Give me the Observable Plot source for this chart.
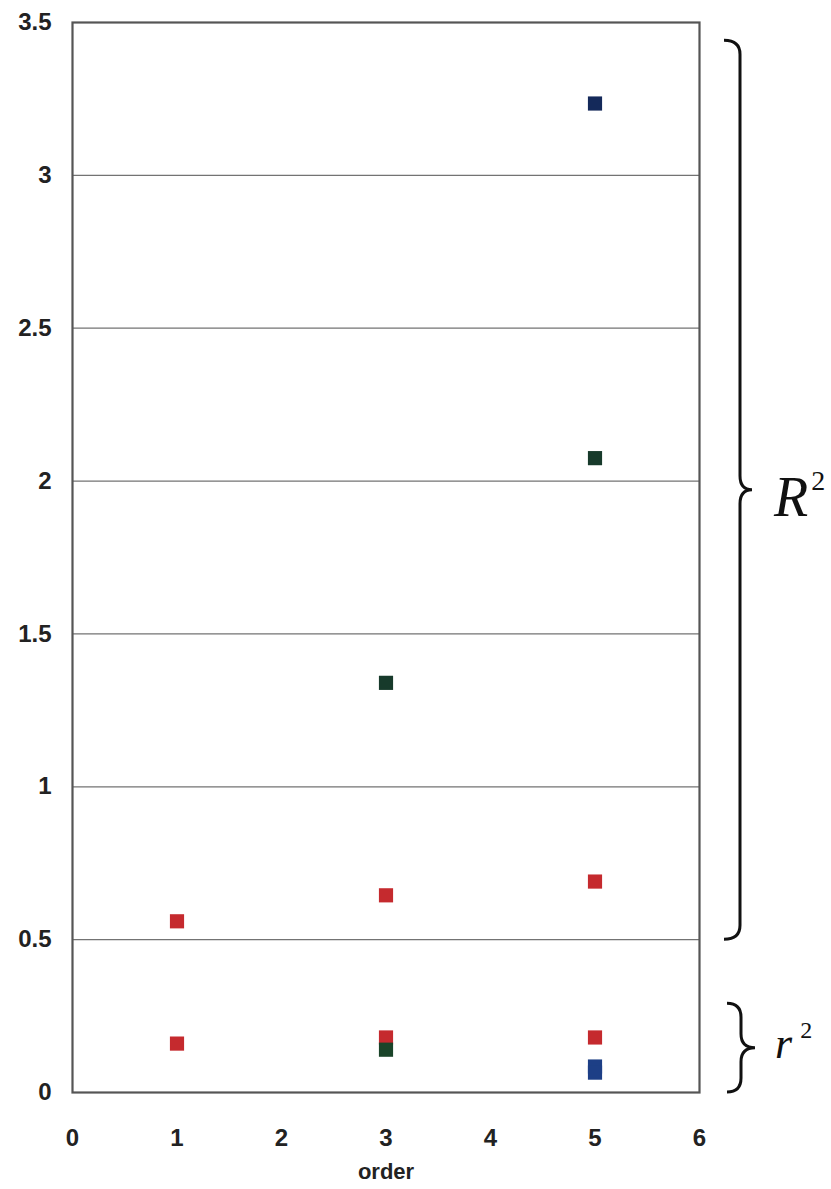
<!DOCTYPE html>
<html>
<head>
<meta charset="utf-8">
<script src="https://cdn.jsdelivr.net/npm/d3@7"></script>
<script src="https://cdn.jsdelivr.net/npm/@observablehq/plot@0.6"></script>
<style>
  html, body { margin: 0; padding: 0; background: #fff; }
</style>
</head>
<body>
<div id="chart"></div>
<script>
// ---- data ----
const xTicks = [0, 1, 2, 3, 4, 5, 6];
const yTicks = [0, 0.5, 1, 1.5, 2, 2.5, 3, 3.5];
const gridValues = [0.5, 1, 1.5, 2, 2.5, 3];

// R^2 (upper group)
const redRX = [1, 3, 5];
const redR = [0.56, 0.645, 0.69];
const greenRX = [3, 5];
const greenR = [1.34, 2.075];
const blueRX = [5];
const blueR = [3.235];

// r^2 (lower group)
const redrX = [1, 3, 5];
const redr = [0.16, 0.18, 0.18];
const greenrX = [3];
const greenr = [0.14];
const bluerX = [5, 5];
const bluer = [0.085, 0.065];

// brace extents (in y units)
const bigBrace = [3.44, 0.5];
const smallBrace = [0.29, 0.0];

const pts = (xs, ys, color) => xs.map((x, i) => ({x, y: ys[i], color}));
const points = [
  ...pts(redRX, redR, "#c52a2e"),
  ...pts(greenRX, greenR, "#173a2b"),
  ...pts(blueRX, blueR, "#14295a"),
  ...pts(redrX, redr, "#c52a2e"),
  ...pts(greenrX, greenr, "#1a4429"),
  ...pts(bluerX, bluer, "#1d3f86")
];

const plot = Plot.plot({
  width: 831,
  height: 1189,
  marginTop: 22,
  marginRight: 132,
  marginBottom: 97,
  marginLeft: 72,
  style: {fontFamily: "Liberation Sans, Arial, sans-serif", background: "white", color: "#222"},
  x: {domain: [0, 6]},
  y: {domain: [0, 3.5]},
  marks: [
    Plot.ruleY(gridValues, {stroke: "#444", strokeWidth: 1.3, strokeOpacity: 0.75}),
    Plot.frame({stroke: "#555", strokeWidth: 2.2}),
    Plot.axisY({ticks: yTicks, tickSize: 0, tickPadding: 21, tickFormat: d => String(d),
      fontSize: 24, fontWeight: "bold", label: null}),
    Plot.axisX({ticks: xTicks, tickSize: 0, tickPadding: 36, tickFormat: d => String(d),
      fontSize: 24, fontWeight: "bold", label: null}),
    Plot.text(["order"], {frameAnchor: "bottom", dy: 86, fontSize: 22, fontWeight: "bold", fill: "#222"}),
    Plot.dot(points, {x: "x", y: "y", symbol: "square", r: 8, fill: d => d.color, stroke: "none"})
  ]
});

document.getElementById("chart").appendChild(plot);

// ---- braces & labels (annotation, positioned via the y scale) ----
const ys = plot.scale("y");
const svg = d3.select(plot);

function bracePath(x0, xc, xt, yTop, yBot) {
  const ym = (yTop + yBot) / 2;
  const r = Math.min(14, (yBot - yTop) / 6);
  return `M${x0},${yTop} Q${xc},${yTop} ${xc},${yTop + r} L${xc},${ym - r} Q${xc},${ym} ${xt},${ym} ` +
         `Q${xc},${ym} ${xc},${ym + r} L${xc},${yBot - r} Q${xc},${yBot} ${x0},${yBot}`;
}

const b1 = [ys.apply(bigBrace[0]), ys.apply(bigBrace[1])];
const b2 = [ys.apply(smallBrace[0]), ys.apply(smallBrace[1])];

svg.append("path")
  .attr("d", bracePath(724, 740, 752, b1[0], b1[1]))
  .attr("fill", "none").attr("stroke", "#111").attr("stroke-width", 3);
svg.append("path")
  .attr("d", bracePath(727, 741, 755, b2[0], b2[1]))
  .attr("fill", "none").attr("stroke", "#111").attr("stroke-width", 3);

const t1 = svg.append("text")
  .attr("x", 774).attr("y", (b1[0] + b1[1]) / 2 + 26)
  .attr("text-anchor", "start")
  .attr("font-family", "Liberation Serif, Times New Roman, serif")
  .attr("font-style", "italic").attr("font-size", 56).attr("fill", "#111");
t1.append("tspan").text("R");
t1.append("tspan").attr("dy", -26).attr("dx", 3).attr("font-size", 28).attr("font-style", "normal").text("2");

const t2 = svg.append("text")
  .attr("x", 775).attr("y", (b2[0] + b2[1]) / 2 + 10)
  .attr("text-anchor", "start")
  .attr("font-family", "Liberation Serif, Times New Roman, serif")
  .attr("font-style", "italic").attr("font-size", 44).attr("fill", "#111");
t2.append("tspan").text("r");
t2.append("tspan").attr("dy", -20).attr("dx", 8).attr("font-size", 24).attr("font-style", "normal").text("2");
</script>
</body>
</html>
